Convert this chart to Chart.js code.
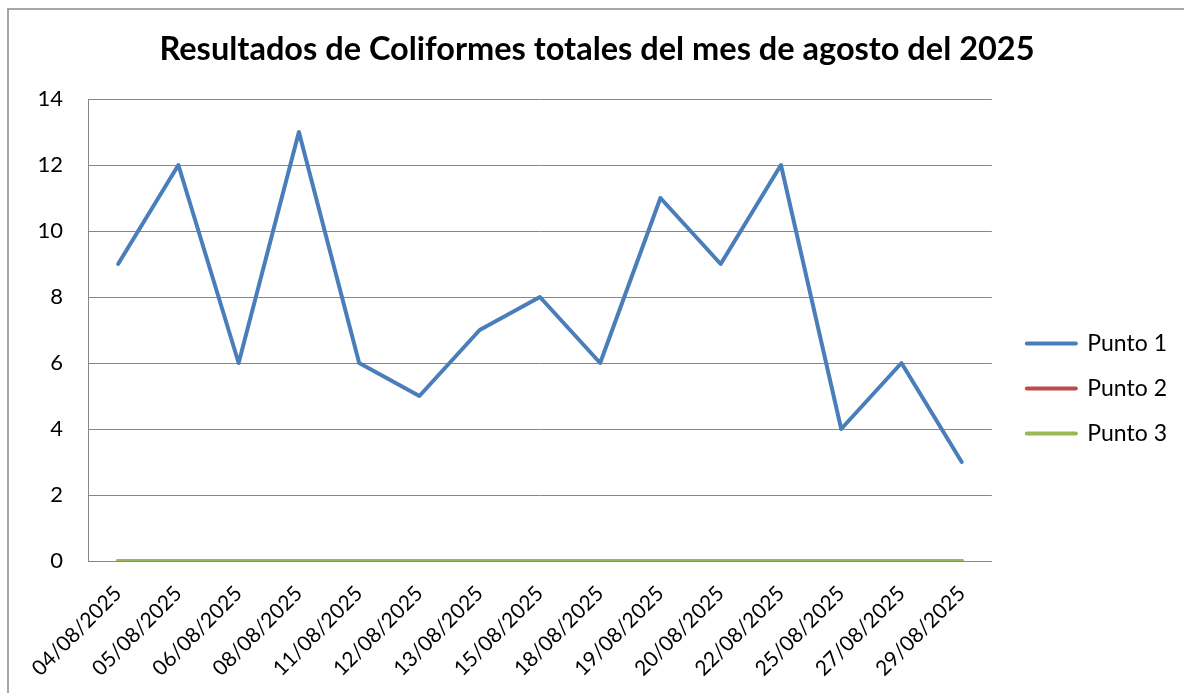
<!DOCTYPE html>
<html lang="es">
<head>
<meta charset="UTF-8">
<title>Coliformes totales agosto 2025</title>
<script src="https://cdn.jsdelivr.net/npm/chart.js@4.4.0/dist/chart.umd.min.js"></script>
<style>
    html, body { margin: 0; padding: 0; background: #fff; overflow: hidden; }
    #wrap { position: absolute; left: 0; top: 0; width: 1184px; height: 693px; }
    #frame { position: absolute; left: 7px; top: 8px; width: 1200px; height: 720px;
             border: 2px solid #a6a6a6; pointer-events: none; }
</style>
</head>
<body>
<div id="wrap"><canvas id="myChart" width="1184" height="693"></canvas></div>
<div id="frame"></div>

<script>
    const fechas = ['04/08/2025', '05/08/2025', '06/08/2025', '08/08/2025', '11/08/2025',
                    '12/08/2025', '13/08/2025', '15/08/2025', '18/08/2025', '19/08/2025',
                    '20/08/2025', '22/08/2025', '25/08/2025', '27/08/2025', '29/08/2025'];
    const punto1 = [9, 12, 6, 13, 6, 5, 7, 8, 6, 11, 9, 12, 4, 6, 3];
    const punto2 = [0, 0, 0, 0, 0, 0, 0, 0, 0, 0, 0, 0, 0, 0, 0];
    const punto3 = [0, 0, 0, 0, 0, 0, 0, 0, 0, 0, 0, 0, 0, 0, 0];
    const yMin = 0, yMax = 14, yStep = 2;

    const gris = '#868686';
    const fuente = 'Lato';

    // move the legend block (and title) where Excel puts them
    const legendShift = {
        id: 'legendShift',
        afterLayout(chart) {
            const lg = chart.legend;
            lg.left += 13; lg.right += 13;
            lg.top += 42; lg.bottom += 42;
            const t = chart.titleBlock;
            t.left += 10; t.right += 10;
        }
    };

    function serie(label, data, color, order) {
        return {
            label: label,
            data: data,
            borderColor: color,
            backgroundColor: color,
            borderWidth: 4,
            borderCapStyle: 'round',
            borderJoinStyle: 'round',
            pointRadius: 0,
            tension: 0,
            fill: false,
            order: order
        };
    }

    const ctx = document.getElementById('myChart').getContext('2d');
    const myChart = new Chart(ctx, {
        type: 'line',
        data: {
            labels: fechas,
            datasets: [
                serie('Punto 1', punto1, '#4a7ebb', 0),
                serie('Punto 2', punto2, '#be4b48', 2),
                serie('Punto 3', punto3, '#98b954', 1)
            ]
        },
        plugins: [legendShift],
        options: {
            responsive: false,
            animation: false,
            devicePixelRatio: 1,
            layout: { padding: { left: 10, right: 20, top: 0, bottom: 0 } },
            plugins: {
                tooltip: { enabled: false },
                title: {
                    display: true,
                    text: 'Resultados de Coliformes totales del mes de agosto del 2025',
                    color: '#000',
                    font: { family: fuente, size: 32.5, weight: 'bold', lineHeight: 1.2 },
                    padding: { top: 30, bottom: 30 }
                },
                legend: {
                    position: 'right',
                    labels: {
                        color: '#000',
                        font: { family: fuente, size: 23 },
                        usePointStyle: true,
                        pointStyle: 'line',
                        pointStyleWidth: 49,
                        padding: 22,
                        sort: (a, b) => a.datasetIndex - b.datasetIndex,
                        generateLabels: function(chart) {
                            return Chart.defaults.plugins.legend.labels.generateLabels(chart).map(function(l) {
                                const ds = chart.data.datasets[l.datasetIndex];
                                l.strokeStyle = ds.borderColor;
                                l.fillStyle = ds.borderColor;
                                l.lineWidth = 4;
                                l.lineCap = 'round';
                                l.pointStyle = 'line';
                                return l;
                            });
                        }
                    }
                }
            },
            scales: {
                x: {
                    offset: true,
                    grid: { display: false, drawTicks: false },
                    border: { display: true, color: gris, width: 1 },
                    ticks: {
                        color: '#000',
                        font: { family: fuente, size: 21 },
                        maxRotation: 45,
                        minRotation: 45,
                        autoSkip: false,
                        padding: 20
                    },
                    afterFit: function(scale) { scale.height = 132; }
                },
                y: {
                    min: yMin,
                    max: yMax,
                    grid: { color: gris, lineWidth: 1, drawTicks: false },
                    border: { display: true, color: gris, width: 1 },
                    ticks: {
                        stepSize: yStep,
                        color: '#000',
                        font: { family: fuente, size: 22 },
                        padding: 25
                    },
                    afterFit: function(scale) { scale.width = 78; }
                }
            }
        }
    });
</script>
</body>
</html>
